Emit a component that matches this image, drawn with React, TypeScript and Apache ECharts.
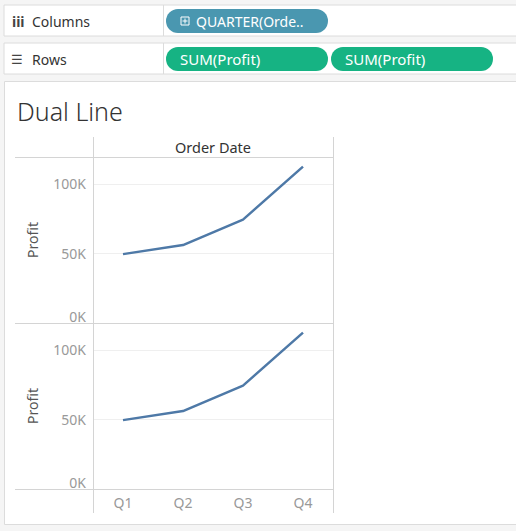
import React, { useEffect, useRef } from "react";
import * as echarts from "echarts";

const quarters = ["Q1", "Q2", "Q3", "Q4"];
const profitTop = [49500, 56000, 74300, 112400];
const profitBottom = [49500, 56000, 74300, 112400];
const yTicks = [0, 50000, 100000];
const yMax = 119300;
const titleText = "Dual Line";
const headerText = "Order Date";
const columnsPill = "QUARTER(Orde..";
const rowsPills = ["SUM(Profit)", "SUM(Profit)"];

const FONT = "'Noto Sans', 'Open Sans', sans-serif";
const LINE_COLOR = "#4e79a7";
const BORDER = "#d4d4d4";

export default function App() {
  const ref = useRef<HTMLDivElement>(null);
  useEffect(() => {
    document.body.style.margin = "0";
    const chart = echarts.init(ref.current!, undefined, { renderer: "svg" });
    const yAxisBase = (gridIndex: number) => ({
      type: "value" as const,
      gridIndex,
      min: 0,
      max: yMax,
      interval: yTicks[1] - yTicks[0],
      name: "Profit",
      nameLocation: "middle" as const,
      nameGap: 54,
      nameRotate: 90,
      nameTextStyle: { color: "#555", fontSize: 14, fontFamily: FONT },
      axisLine: { show: false },
      axisTick: { show: false },
      axisLabel: {
        color: "#999",
        fontSize: 14,
        fontFamily: FONT,
        margin: 7,
        showMaxLabel: false,
        verticalAlignMinLabel: "bottom",
        formatter: (v: number) => (yTicks.includes(v) ? `${v / 1000}K` : ""),
      },
      splitLine: { show: true, lineStyle: { color: "#efefef", width: 1 } },
    });
    const hline = (y: number, x1: number, x2: number) => ({
      type: "line",
      shape: { x1, y1: y, x2, y2: y },
      style: { stroke: BORDER, lineWidth: 1 },
      z: 10,
    });
    const vline = (x: number, y1: number, y2: number) => ({
      type: "line",
      shape: { x1: x, y1, x2: x, y2 },
      style: { stroke: BORDER, lineWidth: 1 },
      z: 10,
    });
    const pill = (x: number, y: number, w: number, fill: string, text: string, icon?: boolean, fs = 14) => ({
      type: "group",
      children: [
        { type: "rect", shape: { x, y, width: w, height: 24, r: 12 }, style: { fill } },
        ...(icon
          ? [
              { type: "rect", shape: { x: x + 15, y: y + 8, width: 8, height: 8 }, style: { fill: "none", stroke: "#fff", lineWidth: 1 } },
              { type: "line", shape: { x1: x + 19, y1: y + 9.5, x2: x + 19, y2: y + 14.5 }, style: { stroke: "#fff", lineWidth: 1 } },
              { type: "line", shape: { x1: x + 16.5, y1: y + 12, x2: x + 21.5, y2: y + 12 }, style: { stroke: "#fff", lineWidth: 1 } },
            ]
          : []),
        {
          type: "text",
          x: x + (icon ? 30 : 14),
          y: y + 12,
          style: { text, fill: "#fff", fontSize: fs, fontFamily: FONT, verticalAlign: "middle" },
        },
      ],
    });
    chart.setOption({
      animation: false,
      backgroundColor: "#f5f5f5",
      grid: [
        { left: 93, top: 157, width: 240, height: 166, show: false },
        { left: 93, top: 323, width: 240, height: 166, show: false },
      ],
      xAxis: [
        {
          type: "category",
          gridIndex: 0,
          data: quarters,
          boundaryGap: true,
          axisLine: { show: false },
          axisTick: { show: false },
          axisLabel: { show: false },
        },
        {
          type: "category",
          gridIndex: 1,
          data: quarters,
          boundaryGap: true,
          axisLine: { show: false },
          axisTick: { show: false },
          axisLabel: { color: "#999", fontSize: 14, fontFamily: FONT, margin: 6 },
        },
      ],
      yAxis: [yAxisBase(0), yAxisBase(1)],
      series: [
        {
          type: "line",
          xAxisIndex: 0,
          yAxisIndex: 0,
          data: profitTop,
          symbol: "none",
          lineStyle: { color: LINE_COLOR, width: 2.5 },
        },
        {
          type: "line",
          xAxisIndex: 1,
          yAxisIndex: 1,
          data: profitBottom,
          symbol: "none",
          lineStyle: { color: LINE_COLOR, width: 2.5 },
        },
      ],
      graphic: [
        // shelves
        { type: "rect", shape: { x: 4, y: 5, width: 520, height: 31 }, style: { fill: "#fff", stroke: "#dcdcdc", lineWidth: 1 }, z: 0 },
        { type: "rect", shape: { x: 4, y: 43, width: 520, height: 31 }, style: { fill: "#fff", stroke: "#dcdcdc", lineWidth: 1 }, z: 0 },
        { type: "line", shape: { x1: 163.5, y1: 5, x2: 163.5, y2: 36 }, style: { stroke: "#dcdcdc" } },
        { type: "line", shape: { x1: 163.5, y1: 43, x2: 163.5, y2: 74 }, style: { stroke: "#dcdcdc" } },
        { type: "text", x: 12, y: 21, style: { text: "iii", fill: "#444", fontSize: 14, fontWeight: "bold", fontFamily: FONT, verticalAlign: "middle" } },
        { type: "text", x: 32, y: 21, style: { text: "Columns", fill: "#333", fontSize: 14, fontFamily: FONT, verticalAlign: "middle" } },
        { type: "text", x: 11, y: 59, style: { text: "☰", fill: "#444", fontSize: 13, fontFamily: "'DejaVu Sans', sans-serif", verticalAlign: "middle" } },
        { type: "text", x: 32, y: 59, style: { text: "Rows", fill: "#333", fontSize: 14, fontFamily: FONT, verticalAlign: "middle" } },
        pill(166, 9, 162, "#4a97b0", columnsPill, true, 14),
        pill(166, 47, 162, "#16b383", rowsPills[0], false, 15),
        pill(331, 47, 162, "#16b383", rowsPills[1], false, 15),
        // main panel
        { type: "rect", shape: { x: 4.5, y: 81.5, width: 520, height: 443 }, style: { fill: "#fff", stroke: "#dcdcdc", lineWidth: 1 }, z: -1 },
        { type: "text", x: 17, y: 111, style: { text: titleText, fill: "#333", fontSize: 25, fontWeight: 300, fontFamily: FONT, verticalAlign: "middle" } },
        { type: "text", x: 213, y: 147, style: { text: headerText, fill: "#333", fontSize: 14.5, fontFamily: FONT, align: "center", verticalAlign: "middle" } },
        hline(157.5, 15, 333),
        hline(323.5, 15, 333),
        hline(489.5, 15, 333),
        vline(93.5, 137, 513),
        vline(333.5, 137, 513),
      ],
    });
    return () => chart.dispose();
  }, []);
  return <div ref={ref} style={{ position: "fixed", left: 0, top: 0, width: 516, height: 531 }} />;
}
